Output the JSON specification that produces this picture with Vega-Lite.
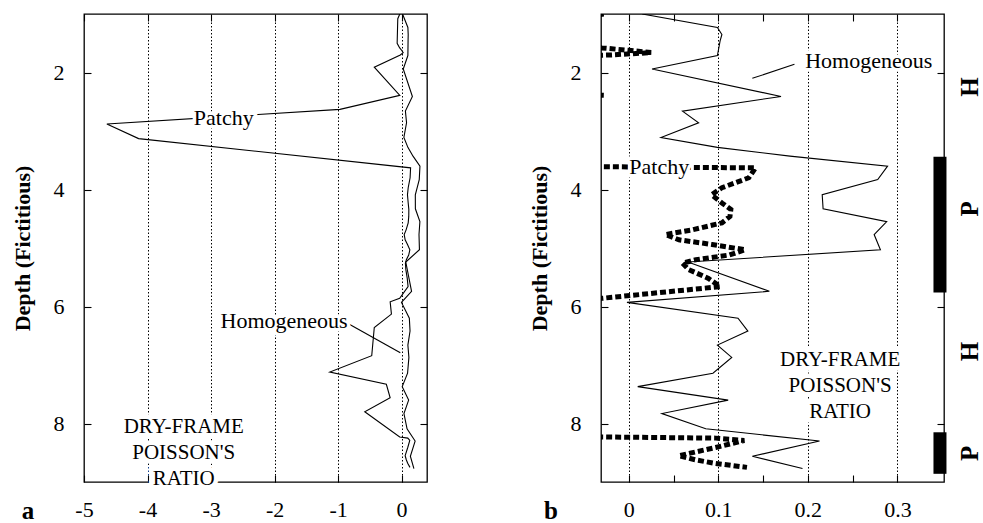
{
  "$schema": "https://vega.github.io/schema/vega-lite/v6.json",
  "padding": {"left": 10, "top": 12, "right": 0, "bottom": 0},
  "background": "white",
  "spacing": 98,
  "config": {
    "view": {"stroke": "black", "strokeWidth": 1.3},
    "axis": {"domain": false, "labelFont": "Liberation Serif, Times New Roman, DejaVu Serif, serif", "titleFont": "Liberation Serif, Times New Roman, DejaVu Serif, serif", "labelFontSize": 22, "labelColor": "black", "tickColor": "black", "titleColor": "black", "tickWidth": 1.1, "labelFlush": false, "labelOverlap": false},
    "text": {"font": "Liberation Serif, Times New Roman, DejaVu Serif, serif", "color": "black"}
  },
  "datasets": {
    "curves": [
      {"s": "P", "d": 1.0, "v": -0.028}, {"s": "P", "d": 1.08, "v": -0.06}, {"s": "P", "d": 1.5, "v": -0.07}, {"s": "P", "d": 1.58, "v": -0.03}, {"s": "P", "d": 1.62, "v": 0.0}, {"s": "P", "d": 1.66, "v": 0.025}, {"s": "P", "d": 1.7, "v": -0.02}, {"s": "P", "d": 1.91, "v": -0.43}, {"s": "P", "d": 2.39, "v": -0.028}, {"s": "P", "d": 2.63, "v": -0.97}, {"s": "P", "d": 2.88, "v": -4.64}, {"s": "P", "d": 3.13, "v": -4.14}, {"s": "P", "d": 3.63, "v": 0.1416}, {"s": "P", "d": 3.8, "v": 0.134}, {"s": "P", "d": 3.97, "v": 0.104}, {"s": "P", "d": 4.09, "v": 0.0925}, {"s": "P", "d": 4.23, "v": 0.104}, {"s": "P", "d": 4.34, "v": 0.114}, {"s": "P", "d": 4.46, "v": 0.113}, {"s": "P", "d": 4.57, "v": 0.104}, {"s": "P", "d": 4.69, "v": 0.071}, {"s": "P", "d": 4.77, "v": 0.041}, {"s": "P", "d": 4.86, "v": 0.056}, {"s": "P", "d": 4.94, "v": 0.093}, {"s": "P", "d": 5.03, "v": 0.13}, {"s": "P", "d": 5.12, "v": 0.112}, {"s": "P", "d": 5.2, "v": 0.075}, {"s": "P", "d": 5.26, "v": 0.06}, {"s": "P", "d": 5.37, "v": 0.067}, {"s": "P", "d": 5.52, "v": 0.089}, {"s": "P", "d": 5.66, "v": 0.102}, {"s": "P", "d": 5.86, "v": -0.03}, {"s": "P", "d": 5.92, "v": -0.18}, {"s": "P", "d": 6.13, "v": -0.16}, {"s": "P", "d": 6.36, "v": -0.43}, {"s": "P", "d": 6.84, "v": -0.47}, {"s": "P", "d": 7.12, "v": -1.13}, {"s": "P", "d": 7.33, "v": -0.24}, {"s": "P", "d": 7.56, "v": -0.18}, {"s": "P", "d": 7.8, "v": -0.58}, {"s": "P", "d": 8.23, "v": -0.03}, {"s": "P", "d": 8.25, "v": 0.097}, {"s": "P", "d": 8.29, "v": 0.129}, {"s": "P", "d": 8.41, "v": 0.097}, {"s": "P", "d": 8.55, "v": 0.056}, {"s": "P", "d": 8.62, "v": 0.074}, {"s": "P", "d": 8.68, "v": 0.096}, {"s": "P", "d": 8.75, "v": 0.132},
      {"s": "H", "d": 1.0, "v": 0.015}, {"s": "H", "d": 1.23, "v": 0.099}, {"s": "H", "d": 1.35, "v": 0.104}, {"s": "H", "d": 1.46, "v": 0.102}, {"s": "H", "d": 1.71, "v": 0.099}, {"s": "H", "d": 1.94, "v": 0.026}, {"s": "H", "d": 2.41, "v": 0.17}, {"s": "H", "d": 2.66, "v": 0.06}, {"s": "H", "d": 2.86, "v": 0.078}, {"s": "H", "d": 3.11, "v": 0.036}, {"s": "H", "d": 3.28, "v": 0.099}, {"s": "H", "d": 3.43, "v": 0.18}, {"s": "H", "d": 3.6, "v": 0.289}, {"s": "H", "d": 3.83, "v": 0.278}, {"s": "H", "d": 4.09, "v": 0.216}, {"s": "H", "d": 4.33, "v": 0.217}, {"s": "H", "d": 4.55, "v": 0.288}, {"s": "H", "d": 4.77, "v": 0.274}, {"s": "H", "d": 5.03, "v": 0.281}, {"s": "H", "d": 5.24, "v": 0.066}, {"s": "H", "d": 5.74, "v": 0.157}, {"s": "H", "d": 5.93, "v": -0.002}, {"s": "H", "d": 6.2, "v": 0.122}, {"s": "H", "d": 6.42, "v": 0.133}, {"s": "H", "d": 6.66, "v": 0.099}, {"s": "H", "d": 6.87, "v": 0.115}, {"s": "H", "d": 7.14, "v": 0.094}, {"s": "H", "d": 7.37, "v": 0.01}, {"s": "H", "d": 7.6, "v": 0.111}, {"s": "H", "d": 7.83, "v": 0.037}, {"s": "H", "d": 8.09, "v": 0.086}, {"s": "H", "d": 8.3, "v": 0.213}, {"s": "H", "d": 8.56, "v": 0.138}, {"s": "H", "d": 8.77, "v": 0.194}
    ],
    "notes": [
      {"p": "a", "k": "lab", "t": "Patchy", "v": -2.8, "d": 2.77},
      {"p": "a", "k": "lab", "t": "Homogeneous", "v": -1.85, "d": 6.25},
      {"p": "a", "k": "blk", "t": "DRY-FRAME\nPOISSON'S\nRATIO", "v": -3.43, "d": 8.06},
      {"p": "a", "k": "pan", "t": "a", "v": -5.88, "d": 9.63},
      {"p": "b", "k": "lab", "t": "Homogeneous", "v": 0.268, "d": 1.81},
      {"p": "b", "k": "lab", "t": "Patchy", "v": 0.034, "d": 3.61},
      {"p": "b", "k": "blk", "t": "DRY-FRAME\nPOISSON'S\nRATIO", "v": 0.236, "d": 6.92},
      {"p": "b", "k": "pan", "t": "b", "v": -0.087, "d": 9.63},
      {"p": "b", "k": "zone", "t": "H", "v": 0.381, "d": 2.25},
      {"p": "b", "k": "zone", "t": "P", "v": 0.381, "d": 4.33},
      {"p": "b", "k": "zone", "t": "H", "v": 0.381, "d": 6.77},
      {"p": "b", "k": "zone", "t": "P", "v": 0.381, "d": 8.51}
    ],
    "leaders": [
      {"p": "a", "v": -0.83, "d": 6.3, "v2": -0.02, "d2": 6.79},
      {"p": "b", "v": 0.185, "d": 1.86, "v2": 0.138, "d2": 2.1}
    ],
    "zones": [
      {"z": "P", "d0": 3.44, "d1": 5.76, "x": 0.3475},
      {"z": "P", "d0": 8.15, "d1": 8.86, "x": 0.3475}
    ]
  },
  "hconcat": [
    {
      "width": 343,
      "height": 468,
      "resolve": {"axis": {"x": "independent", "y": "independent"}},
      "layer": [
        {
          "data": {"name": "curves"},
          "transform": [{"filter": "datum.s == 'H'"}],
          "mark": {"type": "line", "stroke": "black", "strokeWidth": 1.1, "clip": true},
          "encoding": {
            "x": {"field": "v", "type": "quantitative", "scale": {"domain": [-5, 0.4], "nice": false, "zero": false},
              "axis": {"orient": "top", "values": [-5, -4, -3, -2, -1, 0], "labels": false, "tickSize": -7, "grid": false, "title": null}},
            "y": {"field": "d", "type": "quantitative", "scale": {"domain": [1, 9], "reverse": true, "nice": false, "zero": false},
              "axis": {"orient": "right", "values": [2, 4, 6, 8], "labels": false, "tickSize": -7, "grid": false, "title": null}},
            "order": {"field": "d"}
          }
        },
        {
          "data": {"name": "curves"},
          "transform": [{"filter": "datum.s == 'P'"}],
          "mark": {"type": "line", "stroke": "black", "strokeWidth": 1.1, "clip": true},
          "encoding": {
            "x": {"field": "v", "type": "quantitative", "scale": {"domain": [-5, 0.4], "nice": false, "zero": false},
              "axis": {"orient": "bottom", "values": [-5, -4, -3, -2, -1, 0], "labelExpr": "'' + datum.value", "grid": true, "gridColor": "black", "gridDash": [1.5, 2], "gridWidth": 1, "gridOpacity": {"condition": {"test": "datum.value < -4.5", "value": 0}, "value": 1}, "tickSize": -7, "labelPadding": 24, "title": null}},
            "y": {"field": "d", "type": "quantitative", "scale": {"domain": [1, 9], "reverse": true, "nice": false, "zero": false},
              "axis": {"orient": "left", "values": [2, 4, 6, 8], "tickSize": -7, "labelPadding": 27, "grid": false, "title": "Depth (Fictitious)", "titleFontSize": 22, "titleFontWeight": "bold", "titlePadding": 19}},
            "order": {"field": "d"}
          }
        },
        {
          "data": {"name": "leaders"},
          "transform": [{"filter": "datum.p == 'a'"}],
          "mark": {"type": "rule", "stroke": "black", "strokeWidth": 1.1},
          "encoding": {
            "x": {"field": "v", "type": "quantitative", "scale": {"domain": [-5, 0.4], "nice": false, "zero": false}, "axis": null},
            "y": {"field": "d", "type": "quantitative", "scale": {"domain": [1, 9], "reverse": true, "nice": false, "zero": false}, "axis": null},
            "x2": {"field": "v2"},
            "y2": {"field": "d2"}
          }
        },
        {
          "data": {"name": "notes"},
          "transform": [{"filter": "datum.p == 'a' && datum.k == 'lab'"}],
          "mark": {"type": "text", "fontSize": 22, "align": "center", "baseline": "middle", "stroke": "white", "strokeWidth": 7, "fill": "white", "clip": false},
          "encoding": {
            "x": {"field": "v", "type": "quantitative", "scale": {"domain": [-5, 0.4], "nice": false, "zero": false}, "axis": null},
            "y": {"field": "d", "type": "quantitative", "scale": {"domain": [1, 9], "reverse": true, "nice": false, "zero": false}, "axis": null},
            "text": {"field": "t"}
          }
        },
        {
          "data": {"name": "notes"},
          "transform": [{"filter": "datum.p == 'a' && datum.k == 'lab'"}],
          "mark": {"type": "text", "fontSize": 22, "align": "center", "baseline": "middle", "fill": "black", "clip": false},
          "encoding": {
            "x": {"field": "v", "type": "quantitative", "scale": {"domain": [-5, 0.4], "nice": false, "zero": false}, "axis": null},
            "y": {"field": "d", "type": "quantitative", "scale": {"domain": [1, 9], "reverse": true, "nice": false, "zero": false}, "axis": null},
            "text": {"field": "t"}
          }
        },
        {
          "data": {"name": "notes"},
          "transform": [{"filter": "datum.p == 'a' && datum.k == 'blk'"}],
          "mark": {"type": "text", "fontSize": 21, "align": "center", "baseline": "middle", "lineBreak": "\n", "lineHeight": 26, "stroke": "white", "strokeWidth": 9, "fill": "white", "clip": false},
          "encoding": {
            "x": {"field": "v", "type": "quantitative", "scale": {"domain": [-5, 0.4], "nice": false, "zero": false}, "axis": null},
            "y": {"field": "d", "type": "quantitative", "scale": {"domain": [1, 9], "reverse": true, "nice": false, "zero": false}, "axis": null},
            "text": {"field": "t"}
          }
        },
        {
          "data": {"name": "notes"},
          "transform": [{"filter": "datum.p == 'a' && datum.k == 'blk'"}],
          "mark": {"type": "text", "fontSize": 21, "align": "center", "baseline": "middle", "lineBreak": "\n", "lineHeight": 26, "fill": "black", "clip": false},
          "encoding": {
            "x": {"field": "v", "type": "quantitative", "scale": {"domain": [-5, 0.4], "nice": false, "zero": false}, "axis": null},
            "y": {"field": "d", "type": "quantitative", "scale": {"domain": [1, 9], "reverse": true, "nice": false, "zero": false}, "axis": null},
            "text": {"field": "t"}
          }
        },
        {
          "data": {"name": "notes"},
          "transform": [{"filter": "datum.p == 'a' && datum.k == 'pan'"}],
          "mark": {"type": "text", "fontSize": 25, "fontWeight": "bold", "align": "center", "baseline": "alphabetic", "fill": "black", "clip": false},
          "encoding": {
            "x": {"field": "v", "type": "quantitative", "scale": {"domain": [-5, 0.4], "nice": false, "zero": false}, "axis": null},
            "y": {"field": "d", "type": "quantitative", "scale": {"domain": [1, 9], "reverse": true, "nice": false, "zero": false}, "axis": null},
            "text": {"field": "t"}
          }
        }
      ]
    },
    {
      "width": 343,
      "height": 468,
      "resolve": {"axis": {"x": "independent", "y": "independent"}},
      "layer": [
        {
          "data": {"name": "curves"},
          "transform": [{"filter": "datum.s == 'H'"}],
          "mark": {"type": "line", "stroke": "black", "strokeWidth": 1.1, "clip": true},
          "encoding": {
            "x": {"field": "v", "type": "quantitative", "scale": {"domain": [-0.031, 0.352], "nice": false, "zero": false},
              "axis": {"orient": "top", "values": [0, 0.05, 0.1, 0.15, 0.2, 0.25, 0.3], "labels": false, "tickSize": -7, "grid": false, "title": null}},
            "y": {"field": "d", "type": "quantitative", "scale": {"domain": [1, 9], "reverse": true, "nice": false, "zero": false},
              "axis": {"orient": "right", "values": [2, 4, 6, 8], "labels": false, "tickSize": -7, "grid": false, "title": null}},
            "order": {"field": "d"}
          }
        },
        {
          "data": {"name": "curves"},
          "transform": [{"filter": "datum.s == 'P'"}],
          "mark": {"type": "line", "stroke": "black", "strokeWidth": 5, "strokeDash": [6, 3], "strokeCap": "butt", "clip": true},
          "encoding": {
            "x": {"field": "v", "type": "quantitative", "scale": {"domain": [-0.031, 0.352], "nice": false, "zero": false},
              "axis": {"orient": "bottom", "values": [0, 0.05, 0.1, 0.15, 0.2, 0.25, 0.3], "labelExpr": "round(datum.value * 20) % 2 == 0 ? '' + round(datum.value * 10) / 10 : ''", "grid": true, "gridColor": "black", "gridDash": [1.5, 2], "gridWidth": 1, "gridOpacity": {"condition": {"test": "round(datum.value * 20) % 2 != 0", "value": 0}, "value": 1}, "tickSize": -7, "labelPadding": 24, "title": null}},
            "y": {"field": "d", "type": "quantitative", "scale": {"domain": [1, 9], "reverse": true, "nice": false, "zero": false},
              "axis": {"orient": "left", "values": [2, 4, 6, 8], "tickSize": -7, "labelPadding": 27, "grid": false, "title": "Depth (Fictitious)", "titleFontSize": 22, "titleFontWeight": "bold", "titlePadding": 19}},
            "order": {"field": "d"}
          }
        },
        {
          "data": {"name": "zones"},
          "mark": {"type": "rule", "stroke": "black", "strokeWidth": 13, "strokeCap": "butt", "clip": false},
          "encoding": {
            "x": {"field": "x", "type": "quantitative", "scale": {"domain": [-0.031, 0.352], "nice": false, "zero": false}, "axis": null},
            "y": {"field": "d0", "type": "quantitative", "scale": {"domain": [1, 9], "reverse": true, "nice": false, "zero": false}, "axis": null},
            "y2": {"field": "d1"}
          }
        },
        {
          "data": {"name": "leaders"},
          "transform": [{"filter": "datum.p == 'b'"}],
          "mark": {"type": "rule", "stroke": "black", "strokeWidth": 1.1},
          "encoding": {
            "x": {"field": "v", "type": "quantitative", "scale": {"domain": [-0.031, 0.352], "nice": false, "zero": false}, "axis": null},
            "y": {"field": "d", "type": "quantitative", "scale": {"domain": [1, 9], "reverse": true, "nice": false, "zero": false}, "axis": null},
            "x2": {"field": "v2"},
            "y2": {"field": "d2"}
          }
        },
        {
          "data": {"name": "notes"},
          "transform": [{"filter": "datum.p == 'b' && datum.k == 'lab'"}],
          "mark": {"type": "text", "fontSize": 22, "align": "center", "baseline": "middle", "stroke": "white", "strokeWidth": 7, "fill": "white", "clip": false},
          "encoding": {
            "x": {"field": "v", "type": "quantitative", "scale": {"domain": [-0.031, 0.352], "nice": false, "zero": false}, "axis": null},
            "y": {"field": "d", "type": "quantitative", "scale": {"domain": [1, 9], "reverse": true, "nice": false, "zero": false}, "axis": null},
            "text": {"field": "t"}
          }
        },
        {
          "data": {"name": "notes"},
          "transform": [{"filter": "datum.p == 'b' && datum.k == 'lab'"}],
          "mark": {"type": "text", "fontSize": 22, "align": "center", "baseline": "middle", "fill": "black", "clip": false},
          "encoding": {
            "x": {"field": "v", "type": "quantitative", "scale": {"domain": [-0.031, 0.352], "nice": false, "zero": false}, "axis": null},
            "y": {"field": "d", "type": "quantitative", "scale": {"domain": [1, 9], "reverse": true, "nice": false, "zero": false}, "axis": null},
            "text": {"field": "t"}
          }
        },
        {
          "data": {"name": "notes"},
          "transform": [{"filter": "datum.p == 'b' && datum.k == 'blk'"}],
          "mark": {"type": "text", "fontSize": 21, "align": "center", "baseline": "middle", "lineBreak": "\n", "lineHeight": 26, "stroke": "white", "strokeWidth": 9, "fill": "white", "clip": false},
          "encoding": {
            "x": {"field": "v", "type": "quantitative", "scale": {"domain": [-0.031, 0.352], "nice": false, "zero": false}, "axis": null},
            "y": {"field": "d", "type": "quantitative", "scale": {"domain": [1, 9], "reverse": true, "nice": false, "zero": false}, "axis": null},
            "text": {"field": "t"}
          }
        },
        {
          "data": {"name": "notes"},
          "transform": [{"filter": "datum.p == 'b' && datum.k == 'blk'"}],
          "mark": {"type": "text", "fontSize": 21, "align": "center", "baseline": "middle", "lineBreak": "\n", "lineHeight": 26, "fill": "black", "clip": false},
          "encoding": {
            "x": {"field": "v", "type": "quantitative", "scale": {"domain": [-0.031, 0.352], "nice": false, "zero": false}, "axis": null},
            "y": {"field": "d", "type": "quantitative", "scale": {"domain": [1, 9], "reverse": true, "nice": false, "zero": false}, "axis": null},
            "text": {"field": "t"}
          }
        },
        {
          "data": {"name": "notes"},
          "transform": [{"filter": "datum.p == 'b' && datum.k == 'pan'"}],
          "mark": {"type": "text", "fontSize": 25, "fontWeight": "bold", "align": "center", "baseline": "alphabetic", "fill": "black", "clip": false},
          "encoding": {
            "x": {"field": "v", "type": "quantitative", "scale": {"domain": [-0.031, 0.352], "nice": false, "zero": false}, "axis": null},
            "y": {"field": "d", "type": "quantitative", "scale": {"domain": [1, 9], "reverse": true, "nice": false, "zero": false}, "axis": null},
            "text": {"field": "t"}
          }
        },
        {
          "data": {"name": "notes"},
          "transform": [{"filter": "datum.p == 'b' && datum.k == 'zone'"}],
          "mark": {"type": "text", "fontSize": 25, "fontWeight": "bold", "align": "center", "baseline": "middle", "angle": 270, "fill": "black", "clip": false},
          "encoding": {
            "x": {"field": "v", "type": "quantitative", "scale": {"domain": [-0.031, 0.352], "nice": false, "zero": false}, "axis": null},
            "y": {"field": "d", "type": "quantitative", "scale": {"domain": [1, 9], "reverse": true, "nice": false, "zero": false}, "axis": null},
            "text": {"field": "t"}
          }
        }
      ]
    }
  ]
}
